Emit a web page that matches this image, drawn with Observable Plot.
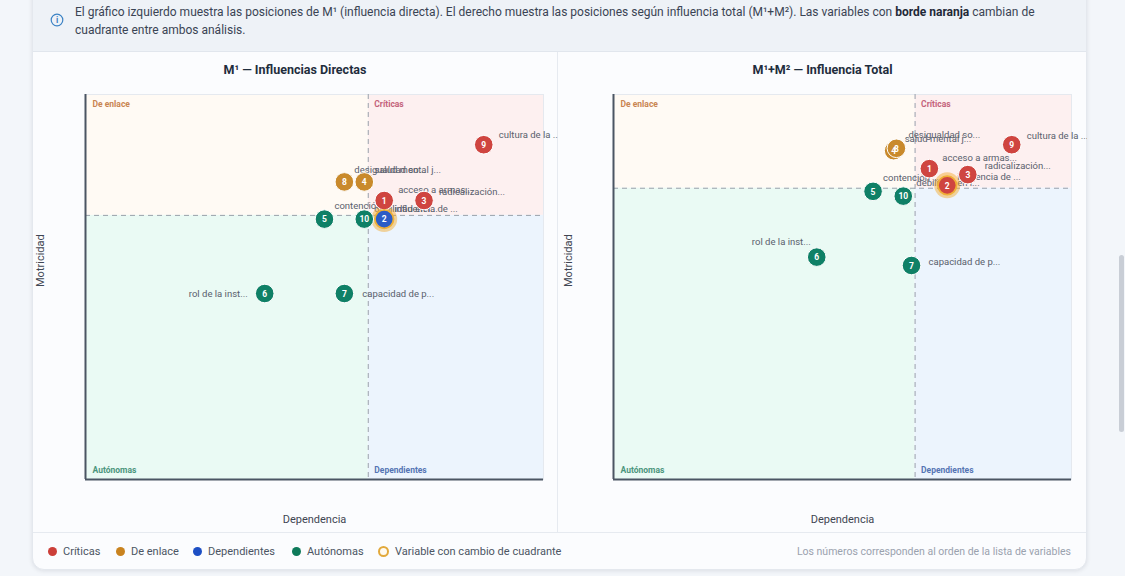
<!DOCTYPE html>
<html>
<head>
<meta charset="utf-8">
<script src="https://cdn.jsdelivr.net/npm/d3@7"></script>
<script src="https://cdn.jsdelivr.net/npm/@observablehq/plot@0.6"></script>
<style>
html,body{margin:0;padding:0;width:1125px;height:576px;overflow:hidden;background:#f3f6fa;font-family:Roboto,"Noto Sans",sans-serif;}
.abs{position:absolute;}
#card{left:32px;top:-12px;width:1055px;height:582px;background:#fbfcfe;border-radius:12px;box-shadow:0 1px 4px rgba(15,23,42,.10);border:1px solid #e4e8ee;box-sizing:border-box;}
#info{left:33px;top:0;width:1053px;height:51px;background:#eef2f7;border-bottom:1px solid #e1e6ed;}
#infotext{left:75px;top:3px;font-size:12px;line-height:18px;color:#3a4454;white-space:nowrap;}
#infotext b{color:#1f2937;}
.title{top:62px;font-size:12.5px;font-weight:700;color:#1f2d3d;text-align:center;}
#divider{left:557px;top:52px;width:1px;height:480px;background:#e6eaf0;}
#legline{left:33px;top:532px;width:1053px;height:1px;background:#e6eaf0;}
.leg{top:545px;font-size:11px;color:#4b5563;display:flex;align-items:center;white-space:nowrap;}
.sw{width:9px;height:9px;border-radius:50%;margin-right:6px;display:inline-block;}
.ring{width:11px;height:11px;border-radius:50%;border:2px solid #e2a93c;box-sizing:border-box;margin-right:6px;background:#fffaf0;display:inline-block;}
#note{top:545px;right:54px;font-size:10.5px;color:#9aa2ae;white-space:nowrap;}
#scroll{left:1119px;top:255px;width:5px;height:177px;background:#c9ced6;border-radius:3px;}
.chart{top:84px;}
g[aria-label="main-dots"] circle{filter:drop-shadow(0 1px 1.5px rgba(15,23,42,.35));}
g[aria-label="halo"] circle{filter:blur(2.2px);}
</style>
</head>
<body>
<div id="card" class="abs"></div>
<div id="info" class="abs"></div>
<svg class="abs" style="left:50px;top:13px" width="14" height="14"><circle cx="7" cy="7" r="5.8" fill="none" stroke="#3b82c4" stroke-width="1.2"/><text x="7" y="10.3" text-anchor="middle" font-size="8.5" font-weight="700" fill="#3b82c4" font-family="Roboto">i</text></svg>
<div id="infotext" class="abs">El gráfico izquierdo muestra las posiciones de M¹ (influencia directa). El derecho muestra las posiciones según influencia total (M¹+M²). Las variables con <b>borde naranja</b> cambian de<br>cuadrante entre ambos análisis.</div>
<div id="divider" class="abs"></div>
<div class="abs title" style="left:32px;width:526px">M¹ — Influencias Directas</div>
<div class="abs title" style="left:558px;width:529px">M¹+M² — Influencia Total</div>
<div id="left" class="abs chart" style="left:32px"></div>
<div id="right" class="abs chart" style="left:558px"></div>
<div id="legline" class="abs"></div>
<div class="abs leg" style="left:48px"><span class="sw" style="background:#cc3f39"></span>Críticas</div>
<div class="abs leg" style="left:116px"><span class="sw" style="background:#c9831f"></span>De enlace</div>
<div class="abs leg" style="left:193px"><span class="sw" style="background:#1d4fc4"></span>Dependientes</div>
<div class="abs leg" style="left:292px"><span class="sw" style="background:#0e7a5a"></span>Autónomas</div>
<div class="abs leg" style="left:378px"><span class="ring"></span>Variable con cambio de cuadrante</div>
<div id="note" class="abs">Los números corresponden al orden de la lista de variables</div>
<div id="scroll" class="abs"></div>
<script>
// ---- data ----
const ids = [1, 2, 3, 4, 5, 6, 7, 8, 9, 10];
const names = ["acceso a armas...", "influencia de ...", "radicalización...", "salud mental j...", "contención ...",
  "rol de la inst...", "capacidad de p...", "desigualdad so...", "cultura de la ...", "debilidad en l..."];
const depDirect = [15, 15, 17, 14, 12, 9, 13, 13, 20, 14];
const motDirect = [15, 14, 15, 16, 14, 10, 10, 16, 18, 14];
const depTotal = [230, 243, 258, 204, 189, 148, 217, 206, 290, 211];
const motTotal = [260, 246, 255, 275, 241, 186, 179, 277, 280, 237];
const quadrantNames = ["De enlace", "Críticas", "Autónomas", "Dependientes"];

// ---- styling / placement (not data) ----
const dotColor = {"Críticas": "#cf4540", "De enlace": "#c98a2c", "Dependientes": "#2c5cc6", "Autónomas": "#0f8066"};
const quadFill = {"De enlace": "#fffaf4", "Críticas": "#fdf0f0", "Autónomas": "#eafaf4", "Dependientes": "#ecf4fd"};
const quadText = {"De enlace": "#c98552", "Críticas": "#c4627a", "Autónomas": "#4a957c", "Dependientes": "#5574b4"};
const leftPlace = {1:[14,-11,"start"],2:[10,-10,"start"],3:[15,-9,"start"],4:[10,-12,"start"],5:[10,-13,"start"],
  6:[-17,0,"end"],7:[18,0,"start"],8:[10,-12,"start"],9:[15,-10,"start"],10:[10,-10,"start"]};
const rightPlace = {1:[13,-11,"start"],2:[10,-8,"start"],3:[17,-9,"start"],4:[11,-12,"start"],5:[10,-13,"start"],
  6:[-6,-15,"end"],7:[17,-4,"start"],8:[12,-13,"start"],9:[15,-9,"start"],10:[13,-13,"start"]};

function classify(x, y, mx, my) {
  if (x >= mx && y >= my) return "Críticas";
  if (x < mx && y >= my) return "De enlace";
  if (x >= mx && y < my) return "Dependientes";
  return "Autónomas";
}

const mxD = d3.mean(depDirect), myD = d3.mean(motDirect);
const mxT = d3.mean(depTotal), myT = d3.mean(motTotal);
const rows = ids.map((id, i) => {
  const qD = classify(depDirect[i], motDirect[i], mxD, myD);
  const qT = classify(depTotal[i], motTotal[i], mxT, myT);
  return {id, name: names[i], qD, qT, changed: qD !== qT};
});

function chart(xs, ys, qKey, place, width, ml, mr) {
  const xmax = d3.max(xs) * 1.15, ymax = d3.max(ys) * 1.15;
  const mx = d3.mean(xs), my = d3.mean(ys);
  const data = rows.map((r, i) => ({...r, x: xs[i], y: ys[i], q: r[qKey]}));
  const quads = [
    {q: quadrantNames[0], x1: 0, x2: mx, y1: my, y2: ymax},
    {q: quadrantNames[1], x1: mx, x2: xmax, y1: my, y2: ymax},
    {q: quadrantNames[2], x1: 0, x2: mx, y1: 0, y2: my},
    {q: quadrantNames[3], x1: mx, x2: xmax, y1: 0, y2: my}
  ];
  const labelMarks = data.map(d => {
    const p = place[d.id];
    return Plot.text([d], {x: "x", y: "y", text: "name", dx: p[0], dy: p[1], textAnchor: p[2],
      fontSize: 9.5, fill: "#59606c"});
  });
  const svg = Plot.plot({
    width, height: 450, marginLeft: ml, marginRight: mr, marginTop: 10, marginBottom: 55,
    x: {domain: [0, xmax], axis: null},
    y: {domain: [0, ymax], axis: null},
    style: {background: "transparent", fontFamily: "Roboto, 'Noto Sans', sans-serif", overflow: "hidden"},
    marks: [
      Plot.rect(quads, {x1: "x1", x2: "x2", y1: "y1", y2: "y2", fill: d => quadFill[d.q]}),
      Plot.frame({stroke: "#e5e9ef"}),
      Plot.ruleX([mx], {stroke: "#9aa1ab", strokeDasharray: "5,4", strokeWidth: 1}),
      Plot.ruleY([my], {stroke: "#9aa1ab", strokeDasharray: "5,4", strokeWidth: 1}),
      Plot.ruleX([0], {stroke: "#4b5563", strokeWidth: 2}),
      Plot.ruleY([0], {stroke: "#4b5563", strokeWidth: 2}),
      Plot.text([quads[0]], {x: "x1", y: "y2", text: "q", dx: 7, dy: 10, textAnchor: "start", fontSize: 8.5, fontWeight: 700, fill: quadText["De enlace"]}),
      Plot.text([quads[1]], {x: "x1", y: "y2", text: "q", dx: 6, dy: 10, textAnchor: "start", fontSize: 8.5, fontWeight: 700, fill: quadText["Críticas"]}),
      Plot.text([quads[2]], {x: "x1", y: "y1", text: "q", dx: 7, dy: -9, textAnchor: "start", fontSize: 8.5, fontWeight: 700, fill: quadText["Autónomas"]}),
      Plot.text([quads[3]], {x: "x1", y: "y1", text: "q", dx: 6, dy: -9, textAnchor: "start", fontSize: 8.5, fontWeight: 700, fill: quadText["Dependientes"]}),
      ...labelMarks,
      Plot.dot(data.filter(d => d.changed), {x: "x", y: "y", r: 13, fill: "#f5a623", fillOpacity: 0.45, ariaLabel: "halo"}),
      Plot.dot(data, {x: "x", y: "y", r: 9.3, fill: d => dotColor[d.q],
        stroke: d => d.changed ? "#f0b037" : "white", strokeWidth: d => d.changed ? 1.8 : 1, ariaLabel: "main-dots"}),
      Plot.text(data, {x: "x", y: "y", text: d => String(d.id), fill: "white", fontSize: 8.5, fontWeight: 700, dy: 0.5}),
      Plot.text(["Dependencia"], {frameAnchor: "bottom", text: d => d, dy: 43, fontSize: 11, fill: "#3f4652"}),
      Plot.text(["Motricidad"], {frameAnchor: "left", text: d => d, dx: -45, rotate: -90, fontSize: 11, fill: "#3f4652"})
    ]
  });
  svg.style.overflow = "hidden";
  return svg;
}

document.getElementById("left").append(chart(depDirect, motDirect, "qD", leftPlace, 526, 53, 15));
document.getElementById("right").append(chart(depTotal, motTotal, "qT", rightPlace, 529, 55, 16));
</script>
</body>
</html>
